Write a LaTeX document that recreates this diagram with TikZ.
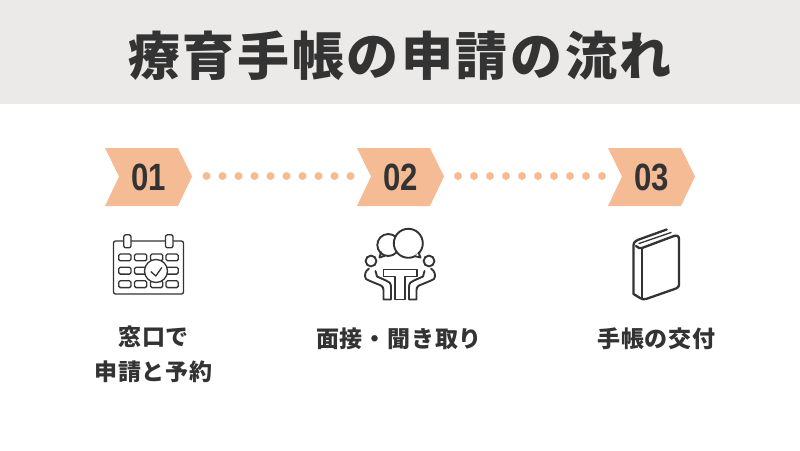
\documentclass[tikz,border=0pt]{standalone}
\usepackage{fontspec}
\setmainfont{Noto Sans CJK JP}
\newfontfamily\numfont{Liberation Sans}
\definecolor{band}{HTML}{EBEAE9}
\definecolor{peach}{HTML}{F5BB94}
\definecolor{ink}{HTML}{333333}
\tikzset{
  titletext/.style={inner sep=0,text=ink,font={\fontsize{52}{55}\bfseries\addfontfeature{LetterSpace=5}\selectfont}},
  steptext/.style={inner sep=0,text=ink,align=center,font={\fontsize{23}{35}\bfseries\addfontfeature{LetterSpace=3.5}\selectfont}},
  numtext/.style={inner sep=0,text=ink,font={\fontsize{38}{40}\numfont\bfseries}},
  icon/.style={draw=ink,line width=1.5pt,line join=round,line cap=round},
  chev/.style={fill=peach,draw=none},
  dotmark/.style={fill=peach,draw=none}
}
\newcommand{\chevron}[2]{%
  \fill[chev] (#1,148) -- ++(73,0) -- ++(14,28.5) -- ++(-14,29.5) -- ++(-73,0) -- ++(14,-29.5) -- cycle;
  \node[numtext] (num#2) at (#1+43.5,177.5) {\scalebox{0.82}[1]{0#2}};
}
\begin{document}
\begin{tikzpicture}[x=1pt,y=-1pt]
\useasboundingbox (0,0) rectangle (800,450);
\fill[band] (0,0) rectangle (800,104);
\node[titletext] (title) at (400,56) {療育手帳の申請の流れ};
\chevron{105}{1}
\chevron{357}{2}
\chevron{608}{3}
\foreach \i in {0,...,9} {
  \fill[dotmark] ({206.5+16*\i},176) circle (4);
  \fill[dotmark] ({458+16*\i},176) circle (4);
}
% calendar
\draw[icon,line width=1.3pt,rounded corners=2] (113.5,241) rectangle (183.5,294);
\draw[icon,line width=1.3pt,rounded corners=2,fill=white] (123.8,234.8) rectangle (131,247.8);
\draw[icon,line width=1.3pt,rounded corners=2,fill=white] (165.5,234.8) rectangle (173,247.8);
\foreach \x in {118.7,134.5,150.5,166} \foreach \y in {254,267.3,280.8}
  \draw[icon,line width=1.3pt,rounded corners=1.5] (\x,\y) rectangle ++(12.3,6.8);
\draw[icon,line width=1.3pt,fill=white] (156,271) circle (11.5);
\draw[icon,line width=1.3pt] (151,271.7) -- (155.8,276) -- (161.7,267.7);
% meeting
\begin{scope}[icon,line width=1.9pt]
\draw (381,252) -- (379.5,257.5) -- (385,255.7);
\draw (388.3,245) circle (11);
\draw[fill=white] (408.3,243.3) circle (14.5);
\draw[fill=white] (415,256.2) -- (420.5,257.5) -- (418.5,252.5);
\draw (371,261) circle (5.4);
\draw (429,261) circle (5.4);
\draw (383.5,269.5) -- (417,269.5) -- (417,276.5) -- (405,276.5) -- (405,299.5) -- (395,299.5) -- (395,276.5) -- (383.5,276.5) -- cycle;
\draw (369,268.5) .. controls (365,271) and (364,276) .. (366,279) -- (370,281) -- (381,285.5) .. controls (383,287) and (383.5,288) .. (383.5,290) -- (383.5,299.5) -- (391,299.5) -- (391,287) .. controls (391,283) and (389,281.5) .. (386,280.5) -- (377,276.5) -- (375.5,271);
\draw (431,268.5) .. controls (435,271) and (436,276) .. (434,279) -- (430,281) -- (419,285.5) .. controls (417,287) and (416.5,288) .. (416.5,290) -- (416.5,299.5) -- (409,299.5) -- (409,287) .. controls (409,283) and (411,281.5) .. (414,280.5) -- (423,276.5) -- (424.5,271);
\end{scope}
% book
\begin{scope}[icon,line width=2.3pt]
\draw (666.7,229.5) -- (637.5,240) .. controls (634.5,241.5) and (633.5,243) .. (633.5,245) -- (633.5,294) -- (640,298) .. controls (642,299.5) and (644,299.5) .. (646,299) -- (676,288.5) .. controls (678,287.5) and (679,286.5) .. (679,285) -- (679,239) .. controls (679,236) and (677,235) .. (674,236) -- (642,248) .. controls (640,248.5) and (638,248) .. (636,246) ;
\draw (641.7,248) -- (641.7,299);
\draw[line width=1.3pt] (639,243.5) -- (671,232.5);
\end{scope}
\node[steptext] (s1) at (153.5,354.5) {窓口で\\申請と予約};
\node[steptext] (s2) at (399,339.2) {面接・聞き取り};
\node[steptext] (s3) at (656.5,339.2) {手帳の交付};
\end{tikzpicture}
\end{document}
